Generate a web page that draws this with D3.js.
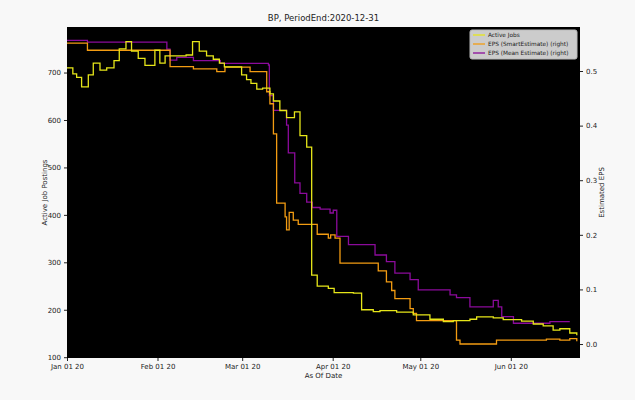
<!DOCTYPE html>
<html><head><meta charset="utf-8">
<script src="https://cdn.jsdelivr.net/npm/d3@7"></script>
<style>body{margin:0;background:#f8f8f8;font-family:"DejaVu Sans",sans-serif}</style>
</head><body><svg id="chart" width="635" height="400"></svg>
<script>
// days since 2020-01-01 and values (step-after)
const jobsDays = [0,2,3.3,5,7.3,9,11.3,13.6,16.1,17.9,20.2,22.1,24.4,26.7,30.1,31.8,33.6,40.8,43,45.3,47.8,50.1,52.2,53.9,59.8,61.5,63,65,67,69.5,70.7,72.9,75.2,77.9,79.8,82.1,83.8,85.7,89.5,91.5,98.1,100.9,104.9,107.2,112.9,118.6,124.3,128.9,132.3,138,140.3,146,149.4,155.7,159.7,163.1,166.5,168.8,172.2,174.6];
const jobsVals = [710,697,690,670,695,720,705,710,725,750,765,745,730,715,747,720,735,737,765,745,735,728,720,712,695,685,677,665,667,655,640,620,605,617,567,543,273,250,245,236,235,200,196,198,195,189,180,175,177,180,185,183,179,176,170,166,157,160,151,146,146];
const smartDays = [0,7,35.3,43.3,51.3,54.1,62.7,68.4,69.5,70.7,71.8,74.7,75.2,76.1,77.5,79.2,83.2,85.7,89.5,90.3,91.8,92.7,93.5,106.6,109.4,111.2,112.3,117.5,118.6,119.7,133.4,134.6,147.1,164.2,168.8,172.2,174.6];
const smartVals = [0.551,0.538,0.508,0.504,0.499,0.507,0.499,0.462,0.44,0.385,0.258,0.233,0.209,0.241,0.227,0.219,0.219,0.201,0.194,0.2,0.194,0.194,0.148,0.134,0.114,0.098,0.083,0.065,0.056,0.043,0.007,0.0,0.007,0.009,0.007,0.01,0.005];
const meanDays = [0,7,34.2,35.3,37.6,43.3,52.5,69,69.3,70.7,75.2,75.8,78,79.8,82.1,84,86.7,90.1,91.2,92.4,96.4,105.5,109.4,112.3,117.5,120.3,131.2,133.4,138,146,147.7,148.9,152.9,165.4,172.2];
const meanVals = [0.556,0.553,0.54,0.52,0.525,0.519,0.514,0.511,0.455,0.428,0.401,0.35,0.295,0.276,0.26,0.25,0.247,0.24,0.245,0.197,0.182,0.163,0.151,0.13,0.118,0.099,0.09,0.085,0.068,0.08,0.068,0.05,0.038,0.041,0.041];
const xTicks = ["2020-01-01","2020-02-01","2020-03-01","2020-04-01","2020-05-01","2020-06-01"];
const leftTicks = [100,200,300,400,500,600,700];
const rightTicks = [0.0,0.1,0.2,0.3,0.4,0.5];

const t0 = new Date(2020,0,1);
const toDate = d => new Date(t0.getTime() + d*86400000);
const svg = d3.select("#chart");
const L = 67, R = 580, T = 27, B = 358;
const x = d3.scaleTime().domain([t0, toDate(175.7)]).range([L, R]);
const yL = d3.scaleLinear().domain([98.3, 796]).range([B, T]);
const yR = d3.scaleLinear().domain([-0.0256, 0.5806]).range([B, T]);

svg.append("rect").attr("x", L).attr("y", T).attr("width", R-L).attr("height", B-T).attr("fill", "#000");

function series(days, vals, y, color) {
  const pts = days.map((d, i) => [toDate(d), vals[i]]);
  svg.append("path").datum(pts)
    .attr("fill", "none").attr("stroke", color).attr("stroke-width", 1.3)
    .attr("d", d3.line().curve(d3.curveStepAfter).x(p => x(p[0])).y(p => y(p[1])));
}
series(meanDays, meanVals, yR, "#8b0b9b");
series(smartDays, smartVals, yR, "#f39c12");
series(jobsDays, jobsVals, yL, "#e6e619");

const fmt = d3.timeFormat("%b %d %y");
const ax = svg.append("g").attr("transform", `translate(0,${B})`)
  .call(d3.axisBottom(x).tickValues(xTicks.map(s => new Date(s + "T00:00"))).tickFormat(fmt).tickSize(3));
const ayl = svg.append("g").attr("transform", `translate(${L},0)`)
  .call(d3.axisLeft(yL).tickValues(leftTicks).tickSize(3));
const ayr = svg.append("g").attr("transform", `translate(${R},0)`)
  .call(d3.axisRight(yR).tickValues(rightTicks).tickFormat(d3.format(".1f")).tickSize(3));
[ax, ayl, ayr].forEach(g => {
  g.select(".domain").remove();
  g.selectAll("text").attr("font-size", 7).attr("fill", "#222").attr("font-family", "DejaVu Sans");
  g.selectAll("line").attr("stroke", "#222");
});

svg.append("text").attr("x", (L+R)/2).attr("y", 21).attr("text-anchor", "middle")
  .attr("font-size", 8.5).attr("fill", "#222").text("BP, PeriodEnd:2020-12-31");
svg.append("text").attr("x", (L+R)/2).attr("y", 378).attr("text-anchor", "middle")
  .attr("font-size", 7).attr("fill", "#222").text("As Of Date");
svg.append("text").attr("transform", `translate(47,${(T+B)/2}) rotate(-90)`).attr("text-anchor", "middle")
  .attr("font-size", 7).attr("fill", "#222").text("Active Job Postings");
svg.append("text").attr("transform", `translate(604,${(T+B)/2}) rotate(-90)`).attr("text-anchor", "middle")
  .attr("font-size", 7).attr("fill", "#222").text("Estimated EPS");

const legend = [["Active Jobs", "#e6e619"], ["EPS (SmartEstimate) (right)", "#f39c12"], ["EPS (Mean Estimate) (right)", "#8b0b9b"]];
svg.append("rect").attr("x", 470).attr("y", 30).attr("width", 107).attr("height", 29)
  .attr("fill", "#cccccc").attr("stroke", "#bbb").attr("rx", 2);
legend.forEach((l, i) => {
  const yy = 35 + i * 9;
  svg.append("line").attr("x1", 473).attr("x2", 485).attr("y1", yy).attr("y2", yy).attr("stroke", l[1]).attr("stroke-width", 1.3);
  svg.append("text").attr("x", 488).attr("y", yy + 2.3).attr("font-size", 5.8).attr("fill", "#222").text(l[0]);
});
</script></body></html>
